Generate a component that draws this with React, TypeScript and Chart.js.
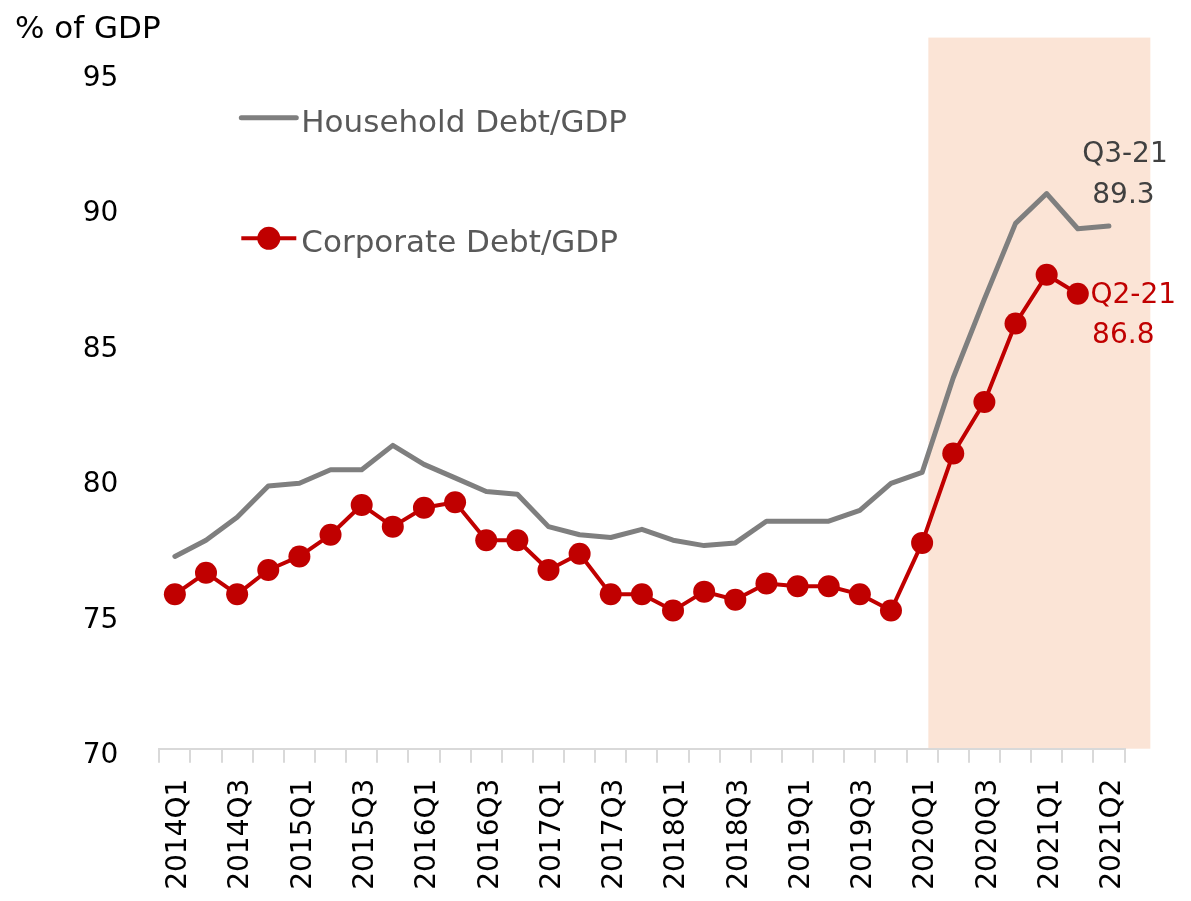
import React, { useEffect, useRef } from "react";
import { Chart, registerables } from "chart.js";

Chart.register(...registerables);

// ---------- data ----------
const categories = [
  "2014Q1", "2014Q2", "2014Q3", "2014Q4",
  "2015Q1", "2015Q2", "2015Q3", "2015Q4",
  "2016Q1", "2016Q2", "2016Q3", "2016Q4",
  "2017Q1", "2017Q2", "2017Q3", "2017Q4",
  "2018Q1", "2018Q2", "2018Q3", "2018Q4",
  "2019Q1", "2019Q2", "2019Q3", "2019Q4",
  "2020Q1", "2020Q2", "2020Q3", "2020Q4",
  "2021Q1", "2021Q2", "2021Q3",
];

// labels shown under every second category (as printed in the source)
const tickLabels = [
  "2014Q1", "2014Q3", "2015Q1", "2015Q3", "2016Q1", "2016Q3",
  "2017Q1", "2017Q3", "2018Q1", "2018Q3", "2019Q1", "2019Q3",
  "2020Q1", "2020Q3", "2021Q1", "2021Q2",
];

const householdDebt = [
  77.1, 77.7, 78.55, 79.7, 79.8, 80.3, 80.3, 81.2,
  80.5, 80.0, 79.5, 79.4, 78.2, 77.9, 77.8, 78.1,
  77.7, 77.5, 77.6, 78.4, 78.4, 78.4, 78.8, 79.8,
  80.2, 83.7, 86.6, 89.4, 90.5, 89.2, 89.3,
];

const corporateDebt = [
  75.7, 76.5, 75.7, 76.6, 77.1, 77.9, 79.0, 78.2,
  78.9, 79.1, 77.7, 77.7, 76.6, 77.2, 75.7, 75.7,
  75.1, 75.8, 75.5, 76.1, 76.0, 76.0, 75.7, 75.1,
  77.6, 80.9, 82.8, 85.7, 87.5, 86.8, null,
];

const yTickValues = [70, 75, 80, 85, 90, 95];

// shaded period (category-index range) and its top (in % of GDP)
const shadeFrom = 24.2;
const shadeTo = 31.33;
const shadeTop = 96.26;

const legendItems = ["Household Debt/GDP", "Corporate Debt/GDP"];
const householdNote = ["Q3-21", "89.3"];
const corporateNote = ["Q2-21", "86.8"];

const GRAY = "#7F7F7F";
const RED = "#C00000";
const FONT = "'DejaVu Sans', sans-serif";

const decorPlugin = {
  id: "decor",
  beforeDraw(chart: any) {
    const { ctx, scales } = chart;
    const x = scales.x;
    const y = scales.y;
    const x1 = x.getPixelForValue(shadeFrom);
    const x2 = x.getPixelForValue(shadeTo);
    const y1 = y.getPixelForValue(shadeTop);
    const y2 = y.getPixelForValue(70);
    ctx.save();
    ctx.fillStyle = "#FBE4D6";
    ctx.fillRect(x1, y1, x2 - x1, y2 - y1);
    ctx.restore();
  },
  afterDraw(chart: any) {
    const { ctx, scales, chartArea } = chart;
    const x = scales.x;
    const y = scales.y;
    ctx.save();
    // axis title
    ctx.font = `31px ${FONT}`;
    ctx.fillStyle = "#000";
    ctx.textAlign = "left";
    ctx.textBaseline = "alphabetic";
    ctx.fillText("% of GDP", 15, 38);

    // legend
    const lx1 = chartArea.left + 82;
    const lx2 = chartArea.left + 137;
    ctx.lineCap = "round";
    ctx.lineWidth = 5;
    ctx.strokeStyle = GRAY;
    ctx.beginPath();
    ctx.moveTo(lx1, chartArea.top + 46);
    ctx.lineTo(lx2, chartArea.top + 46);
    ctx.stroke();
    ctx.lineWidth = 4;
    ctx.lineCap = "butt";
    ctx.strokeStyle = RED;
    ctx.beginPath();
    ctx.moveTo(lx1, chartArea.top + 166.6);
    ctx.lineTo(lx2, chartArea.top + 166.6);
    ctx.stroke();
    ctx.fillStyle = RED;
    ctx.beginPath();
    ctx.arc((lx1 + lx2) / 2, chartArea.top + 166.6, 11.5, 0, Math.PI * 2);
    ctx.fill();
    ctx.font = `31px ${FONT}`;
    ctx.fillStyle = "#595959";
    ctx.fillText(legendItems[0], lx2 + 5, chartArea.top + 60);
    ctx.fillText(legendItems[1], lx2 + 5, chartArea.top + 180);

    // end-point notes
    ctx.font = `28px ${FONT}`;
    ctx.textAlign = "center";
    const hi = householdDebt.length - 1;
    const hx = x.getPixelForValue(hi);
    const hy = y.getPixelForValue(householdDebt[hi]);
    ctx.fillStyle = "#404040";
    ctx.fillText(householdNote[0], hx + 16, hy - 64);
    ctx.fillText(householdNote[1], hx + 14.5, hy - 23);

    let ci = corporateDebt.length - 1;
    while (ci > 0 && corporateDebt[ci] == null) ci--;
    const cx = x.getPixelForValue(ci);
    const cy = y.getPixelForValue(corporateDebt[ci] as number);
    ctx.fillStyle = RED;
    ctx.fillText(corporateNote[0], cx + 55.5, cy + 9.3);
    ctx.fillText(corporateNote[1], cx + 45.5, cy + 49.3);
    ctx.restore();
  },
};

export default function App() {
  const ref = useRef<HTMLCanvasElement | null>(null);

  useEffect(() => {
    if (!ref.current) return;
    const chart = new Chart(ref.current, {
      type: "line",
      data: {
        labels: categories,
        datasets: [
          {
            label: legendItems[0],
            data: householdDebt,
            borderColor: GRAY,
            borderWidth: 5,
            pointRadius: 0,
            pointHoverRadius: 0,
            tension: 0,
            borderJoinStyle: "round",
            borderCapStyle: "round",
            order: 2,
          },
          {
            label: legendItems[1],
            data: corporateDebt,
            borderColor: RED,
            borderWidth: 4,
            pointRadius: 11,
            pointHoverRadius: 11,
            pointBackgroundColor: RED,
            pointBorderWidth: 0,
            tension: 0,
            borderJoinStyle: "round",
            order: 1,
          },
        ],
      },
      options: {
        responsive: false,
        animation: false,
        events: [],
        layout: { padding: { left: 0, right: 66.5, top: 71.7, bottom: 0 } },
        plugins: {
          legend: { display: false },
          title: { display: false },
          tooltip: { enabled: false },
        },
        scales: {
          x: {
            type: "category",
            offset: true,
            grid: {
              display: true,
              offset: true,
              drawOnChartArea: false,
              drawTicks: true,
              tickLength: 14,
              color: "#D9D9D9",
              lineWidth: 2,
            },
            border: { display: true, color: "#D9D9D9", width: 2 },
            ticks: {
              autoSkip: false,
              maxRotation: 90,
              minRotation: 90,
              padding: 16,
              labelOffset: 4,
              color: "#000",
              font: { family: FONT, size: 28 },
              callback: (_v: any, i: number) =>
                i % 2 === 0 ? tickLabels[i / 2] ?? "" : "",
            },
            afterFit: (s: any) => {
              s.height = 901 - 748.7;
              s.paddingLeft = 0;
              s.paddingRight = 0;
            },
          },
          y: {
            type: "linear",
            min: 70,
            max: 95,
            grid: { display: false, drawTicks: false },
            border: { display: false },
            afterBuildTicks: (s: any) => {
              s.ticks = yTickValues.map((v) => ({ value: v }));
            },
            ticks: {
              padding: 41,
              labelOffset: 7,
              color: "#000",
              font: { family: FONT, size: 28 },
            },
            afterFit: (s: any) => {
              s.width = 159.3;
              s.paddingTop = 0;
              s.paddingBottom = 0;
            },
          },
        },
      },
      plugins: [decorPlugin],
    });
    return () => chart.destroy();
  }, []);

  return (
    <div style={{ position: "absolute", left: 0, top: 0, width: 1191, height: 901, background: "#fff" }}>
      <canvas ref={ref} width={1191} height={901} style={{ display: "block" }} />
    </div>
  );
}
